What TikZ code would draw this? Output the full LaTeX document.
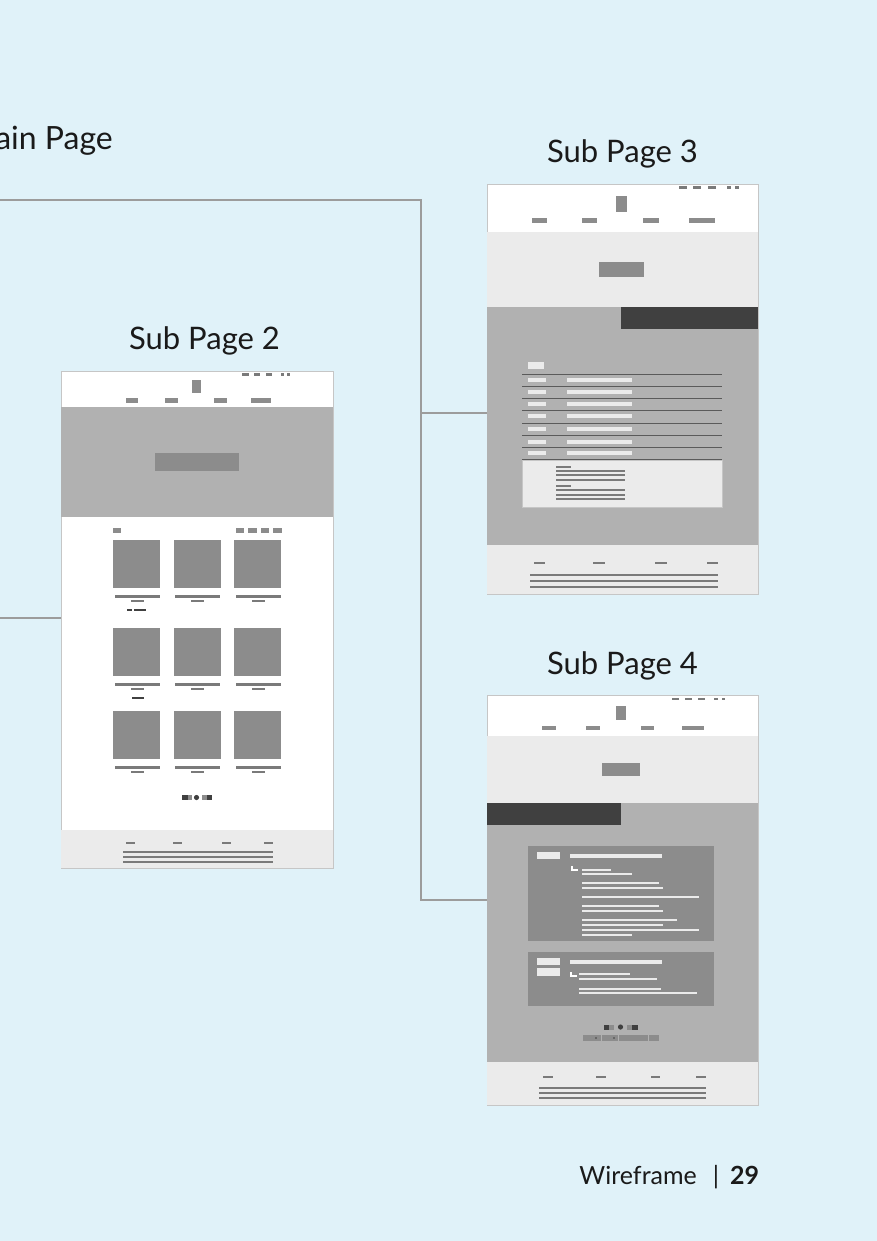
\documentclass[tikz,border=0pt]{standalone}
\usepackage{fontspec}
\setmainfont{Lato}
% wireframe palette
\definecolor{pagebg}{HTML}{E0F2F9}
\definecolor{frameedge}{HTML}{C6C6C6}
\definecolor{wflight}{HTML}{EBEBEB}
\definecolor{wfmid}{HTML}{B1B1B1}
\definecolor{wfbox}{HTML}{8C8C8C}
\definecolor{wftext}{HTML}{7A7A7A}
\definecolor{wfrule}{HTML}{5A5A5A}
\definecolor{wfdark}{HTML}{404040}
\definecolor{linkgray}{HTML}{9C9C9C}
\definecolor{ink}{HTML}{1A1A1A}
% filled block: colour, x1, y1, x2, y2
\newcommand\wfblock[5]{\fill[#1] (#2,#3) rectangle (#4,#5);}
% thin bar centred on a baseline: colour, x1, x2, y, half-height
\newcommand\wfbar[5]{\fill[#1] (#2,#4-#5) rectangle (#3,#4+#5);}
\begin{document}
\begin{tikzpicture}[x=1pt,y=-1pt,
  frame/.style={draw=frameedge, line width=0.8pt, fill=white, inner sep=0pt, outer sep=0pt, anchor=north west},
  title/.style={font=\fontsize{31}{36}\selectfont, text=ink, inner sep=0pt},
  maintitle/.style={font=\fontsize{32}{38}\selectfont, text=ink, inner sep=0pt},
  foot/.style={font=\fontsize{25}{30}\selectfont, text=ink, inner sep=0pt},
  link/.style={draw=linkgray, line width=1.2pt},
  arrowmark/.style={draw=white, line width=1.1pt}
]
\useasboundingbox (0,0) rectangle (877,1241);
\fill[pagebg] (0,0) rectangle (877,1241);
\clip (0,0) rectangle (877,1241);

% ---------- titles ----------
\node[maintitle, anchor=base east] (tmain) at (113,150) {Main Page};
\node[title, anchor=base] (t2) at (204.5,349) {Sub Page 2};
\node[title, anchor=base] (t3) at (622.5,163) {Sub Page 3};
\node[title, anchor=base] (t4) at (622.5,674) {Sub Page 4};

% ---------- page frames ----------
\node[frame, minimum width=272pt, minimum height=497pt] (sp2) at (61,371) {};
\node[frame, minimum width=271pt, minimum height=410pt] (sp3) at (487,184) {};
\node[frame, minimum width=271pt, minimum height=410pt] (sp4) at (487,695) {};

% ---------- connectors ----------
\coordinate (mainA) at (0,200);
\coordinate (mainB) at (0,618);
\coordinate (bus) at (421,200);
\coordinate (tap3) at (421,413);
\draw[link] (mainA) -- (bus) |- (sp4.west);
\draw[link] (tap3) -- (tap3 -| sp3.west);
\draw[link] (mainB) -- (mainB -| sp2.west);

% ================= Sub Page 2 =================
\foreach \a/\b in {242/249,254/260,266/272,281/284,287/290} {\wfbar{wftext}{\a}{\b}{374.5}{1.2}}
\wfblock{wfbox}{192}{380}{201}{393}
\foreach \a/\b in {126/138,165/178,214/227,251/271} {\wfblock{wfbox}{\a}{398}{\b}{403}}
\wfblock{wfmid}{61.4}{407}{332.6}{517}
\wfblock{wfbox}{155}{453}{239}{471}
\wfblock{wfbox}{113}{528}{121}{533}
\foreach \a/\b in {236/244,248/257,261/269,273/282} {\wfblock{wfbox}{\a}{528}{\b}{533}}
\foreach \top/\cap in {540/596,628/684,711/767} {
  \foreach \a/\b/\ca/\cb/\sa/\sb in {113/160/115/160/131/144,174/221/175/220/191/204,234/281/236/281/252/265} {
    \wfblock{wfbox}{\a}{\top}{\b}{\top+48}
    \wfbar{wftext}{\ca}{\cb}{\cap}{1.5}
    \wfbar{wftext}{\sa}{\sb}{\cap+5}{1}
  }
}
\wfbar{wfdark}{127}{132}{610}{1.2}
\wfbar{wfdark}{134}{146}{610}{1.2}
\wfbar{wfdark}{132}{144}{698}{1.2}
\wfblock{wfdark}{182}{795}{187.5}{800}
\wfblock{wfbox}{187.5}{795}{192}{800}
\fill[wfdark] (196.5,797.5) circle (2.6);
\wfblock{wfbox}{201.5}{795}{206.5}{800}
\wfblock{wfdark}{206.5}{795}{212}{800}
\wfblock{wflight}{61.4}{830}{332.6}{867.6}
\foreach \a/\b in {126/135,173/182,222/231,264/273} {\wfbar{wftext}{\a}{\b}{843}{1}}
\foreach \y in {852,857,862} {\wfbar{wftext}{123}{273}{\y}{1.2}}

% ================= Sub Page 3 =================
\foreach \a/\b in {679/687,693/701,708/716,727/731,735/739} {\wfbar{wftext}{\a}{\b}{187.5}{1.4}}
\wfblock{wfbox}{616}{196}{627}{212}
\foreach \a/\b in {532/547,582/597,643/659,689/715} {\wfblock{wfbox}{\a}{218}{\b}{223}}
\wfblock{wflight}{487.4}{232}{757.6}{307}
\wfblock{wfbox}{599}{262}{644}{277}
\wfblock{wfmid}{487.4}{307}{757.6}{545}
\wfblock{wfdark}{621}{307}{757.6}{329}
\wfblock{wflight}{528}{362}{544}{369}
\foreach \y in {374,386,398,410,423,435,447,459} {\draw[wfrule, line width=1pt] (522,\y) -- (722,\y);}
\foreach \y in {380,392,404,416,429,442,453} {
  \wfbar{wflight}{528}{546}{\y}{2}
  \wfbar{wflight}{567}{632}{\y}{2}
}
\filldraw[fill=wflight, draw=frameedge, line width=0.5pt] (522,460) rectangle (722,507);
\wfbar{wftext}{556}{571}{467}{1}
\foreach \y in {471,475,480} {\wfbar{wftext}{556}{625}{\y}{1}}
\wfbar{wftext}{556}{571}{486}{1}
\foreach \y in {490,495,499} {\wfbar{wftext}{556}{625}{\y}{1}}
\wfblock{wflight}{487.4}{545}{757.6}{593.6}
\foreach \a/\b in {534/545,593/605,655/667,707/718} {\wfbar{wftext}{\a}{\b}{563}{1}}
\foreach \y in {575,581,587} {\wfbar{wftext}{530}{718}{\y}{1.3}}

% ================= Sub Page 4 =================
\foreach \a/\b in {672/679,685/692,698/705,714/718,722/725} {\wfbar{wftext}{\a}{\b}{699}{1.3}}
\wfblock{wfbox}{616}{706}{626}{720}
\foreach \a/\b in {542/556,586/600,641/654,682/704} {\wfblock{wfbox}{\a}{726}{\b}{730}}
\wfblock{wflight}{487.4}{736}{757.6}{803}
\wfblock{wfbox}{602}{763}{640}{776}
\wfblock{wfmid}{487.4}{803}{757.6}{1062}
\wfblock{wfdark}{487.4}{803}{621}{825}
% first comment block
\wfblock{wfbox}{528}{846}{714}{941}
\wfblock{wflight}{537}{852}{560}{859}
\wfblock{wflight}{570}{854}{662}{858}
\draw[arrowmark] (572,866) -- (572,870) -- (578,870);
\foreach \b/\y in {611/870,632/874,659/883,663/888,699/897,659/906,663/911,677/920,663/925,699/930,632/935} {\wfbar{wflight}{582}{\b}{\y}{1}}
% second comment block
\wfblock{wfbox}{528}{952}{714}{1006}
\wfblock{wflight}{537}{958}{560}{965}
\wfblock{wflight}{537}{968}{560}{976}
\wfblock{wflight}{570}{960}{662}{964}
\draw[arrowmark] (571,972) -- (571,976) -- (577,976);
\foreach \b/\y in {630/974,657/979,661/989,697/993} {\wfbar{wflight}{579}{\b}{\y}{1}}
% pager and input bar
\wfblock{wfdark}{604}{1024.5}{609}{1029.5}
\wfblock{wfbox}{609}{1024.5}{614}{1029.5}
\fill[wfdark] (620.5,1027) circle (2.6);
\wfblock{wfbox}{627}{1024.5}{632}{1029.5}
\wfblock{wfdark}{632}{1024.5}{638}{1029.5}
\wfblock{wfbox}{583}{1035}{659}{1041}
\foreach \x in {601,618,648} {\draw[wfmid, line width=0.6pt] (\x,1035) -- (\x,1041);}
\fill[wfdark] (596,1038) circle (0.9);
\fill[wfdark] (614,1038) circle (0.9);
\wfblock{wflight}{487.4}{1062}{757.6}{1104.6}
\foreach \a/\b in {543/553,596/606,651/660,696/706} {\wfbar{wftext}{\a}{\b}{1077}{1}}
\foreach \y in {1088,1093,1098} {\wfbar{wftext}{539}{706}{\y}{1.3}}

% ---------- footer ----------
\node[foot, anchor=base east] (wf) at (697,1184) {Wireframe};
\node[foot, anchor=base] (sep) at (716,1184) {|};
\node[foot, font=\fontsize{25}{30}\selectfont\bfseries, anchor=base west] (pg) at (730,1184) {29};
\end{tikzpicture}
\end{document}
